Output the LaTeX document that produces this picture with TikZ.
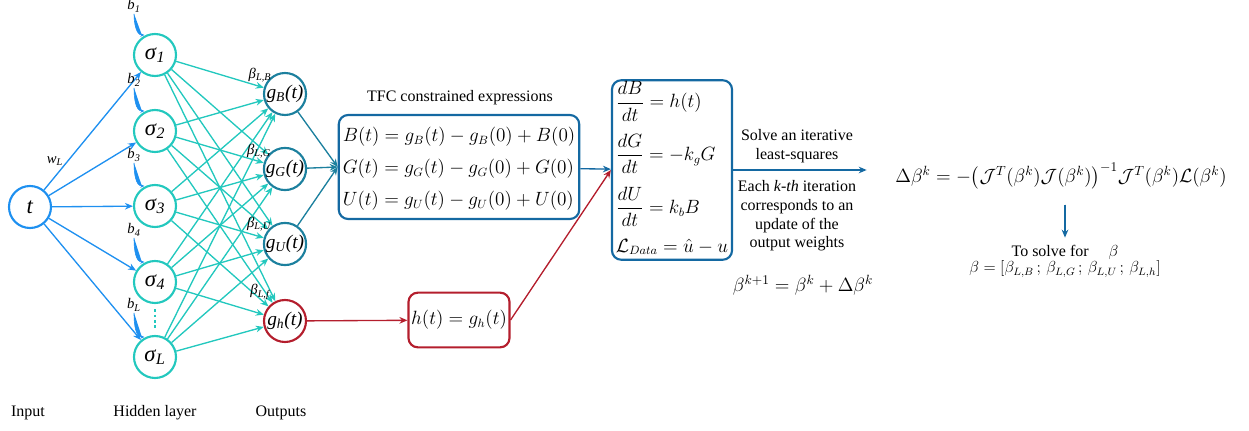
\documentclass[tikz,border=0pt]{standalone}
\usepackage{amsmath}
\usepackage{amssymb}
\usepackage{fontspec}
\setmainfont{Liberation Serif}
\usepackage{tikz}
\usetikzlibrary{arrows.meta}

\definecolor{inblue}{RGB}{30,144,240}
\definecolor{hidcol}{RGB}{35,200,190}
\definecolor{outcol}{RGB}{28,128,158}
\definecolor{boxblue}{RGB}{20,105,162}
\definecolor{redc}{RGB}{180,30,45}

\newcommand{\nsym}[2]{\textit{#1}$_{\textit{#2}}$}

\tikzset{
  neuron/.style={circle, draw, line width=1.6pt, minimum size=31.5pt, inner sep=0pt,
    font=\fontsize{17}{20}\selectfont},
  outneuron/.style={neuron, font=\fontsize{14.5}{16}\selectfont},
  tip/.style={-{Stealth[length=6pt,width=5pt]}},
  inarrow/.style={tip, draw=inblue, fill=inblue, line width=1pt},
  biasarrow/.style={-{Stealth[length=3pt,width=2.6pt]}, draw=inblue, fill=inblue, line width=0.45pt},
  hidarrow/.style={tip, draw=hidcol, fill=hidcol, line width=1pt},
  outarrow/.style={tip, draw=outcol, fill=outcol, line width=1pt},
  boxarrow/.style={tip, draw=boxblue, fill=boxblue, line width=1pt},
  redarrow/.style={tip, draw=redc, fill=redc, line width=1pt},
  eqbox/.style={draw, rounded corners=7pt, line width=1.6pt, inner sep=3pt,
    font=\fontsize{13.5}{24}\selectfont},
  smalllab/.style={font=\fontsize{11}{12}\selectfont, inner sep=1pt},
}

\begin{document}
\begin{tikzpicture}[x=0.75pt, y=-0.75pt, font=\fontsize{12}{14}\selectfont]
\useasboundingbox (0,0) rectangle (1249,431);

% network
\node[neuron, draw=inblue] (t) at (30,207) {\textit{t}};
\foreach \i/\lab/\y in {1/1/55, 2/2/131, 3/3/206, 4/4/282, 5/L/357}
  \node[neuron, draw=hidcol] (h\i) at (155,\y) {\nsym{σ}{\lab}};
\node[outneuron, draw=outcol] (gB) at (285,94) {\nsym{g}{B}\textit{(t)}};
\node[outneuron, draw=outcol] (gG) at (285,169) {\nsym{g}{G}\textit{(t)}};
\node[outneuron, draw=outcol] (gU) at (285,244) {\nsym{g}{U}\textit{(t)}};
\node[outneuron, draw=redc] (gh) at (285,321) {\nsym{g}{h}\textit{(t)}};

\foreach \i in {1,...,5}
  \draw[inarrow] (t) -- (h\i);
\foreach \i in {1,...,5}
  \foreach \o in {gB,gG,gU,gh}
    \draw[hidarrow] (h\i) -- (\o);
\draw[hidcol, line width=1pt, dash pattern=on 2pt off 2pt, shorten <=4pt, shorten >=4pt] (h4) -- (h5);

\node[smalllab] (wL) at (55,161) {\nsym{w}{L}};
\foreach \i/\lab/\y in {1/1/6, 2/2/80, 3/3/155, 4/4/230, 5/L/305} {
  \node[smalllab] (b\i) at (134,\y) {\nsym{b}{\lab}};
  \draw[biasarrow, shorten >=1pt] (b\i.south) to[out=-90, in=180] (h\i.115);
}
\node[smalllab] (bB) at (260,75) {\nsym{β}{L,B}};
\node[smalllab] (bG) at (259,151) {\nsym{β}{L,G}};
\node[smalllab] (bU) at (259,224) {\nsym{β}{L,U}};
\node[smalllab] (bf) at (260,292) {\nsym{β}{L,f}};

% constrained expressions
\node (tfctitle) at (460,98) {TFC constrained expressions};
\node[eqbox, draw=boxblue] (tfc) at (459,167) {%
  \begin{tabular}{@{}l@{}}
  $B(t)=g_B(t)-g_B(0)+B(0)$\\
  $G(t)=g_G(t)-g_G(0)+G(0)$\\
  $U(t)=g_U(t)-g_U(0)+U(0)$
  \end{tabular}};
\node[eqbox, draw=redc, minimum height=41pt, inner xsep=2pt] (hbox) at (459,320) {$h(t)=g_h(t)$};

\foreach \o in {gB,gG,gU}
  \draw[outarrow] (\o) -- (tfc.west);
\draw[redarrow] (gh) -- (hbox);

% physics and loss
\node[eqbox, draw=boxblue, inner ysep=1pt, font=\fontsize{13.5}{16}\selectfont] (phys) at (672,170) {%
  \begin{tabular}{@{}l@{}}
  $\dfrac{dB}{dt}=h(t)$\\[15pt]
  $\dfrac{dG}{dt}=-k_gG$\\[15pt]
  $\dfrac{dU}{dt}=k_bB$\\[13pt]
  $\mathcal{L}_{Data}=\hat{u}-u$
  \end{tabular}};
\draw[boxarrow] (tfc) -- (phys);
\draw[redarrow] (hbox.east) -- (phys.west);

% least squares
\node (solve) at (797,146) {\begin{tabular}{c}Solve an iterative\\least-squares\end{tabular}};
\node (each) at (797,216) {\begin{tabular}{c}Each \textit{k-th} iteration\\corresponds to an\\update of the\\output weights\end{tabular}};
\node[font=\fontsize{14}{16}\selectfont] (update) at (803,285) {$\beta^{k+1}=\beta^k+\Delta\beta^k$};
\node[font=\fontsize{14}{16}\selectfont] (deq) at (1061,176)
  {$\Delta\beta^k=-\big(\mathcal{J}^T(\beta^k)\mathcal{J}(\beta^k)\big)^{-1}\mathcal{J}^T(\beta^k)\mathcal{L}(\beta^k)$};
\node (solvefor) at (1065,261) {\begin{tabular}{c}To solve for \quad$\beta$\\[-2pt]
  $\beta=[\beta_{L,B}\,;\,\beta_{L,G}\,;\,\beta_{L,U}\,;\,\beta_{L,h}]$\end{tabular}};
\draw[boxarrow, shorten >=18pt] (phys.east) -- (deq.west |- phys.east);
\draw[boxarrow, shorten <=8pt, shorten >=1pt] (deq.south -| solvefor.north) -- (solvefor.north);

% layer names
\node (inlab) at (28,413) {Input};
\node (hidlab) at (155,413) {Hidden layer};
\node (outlab) at (281,413) {Outputs};
\end{tikzpicture}
\end{document}
